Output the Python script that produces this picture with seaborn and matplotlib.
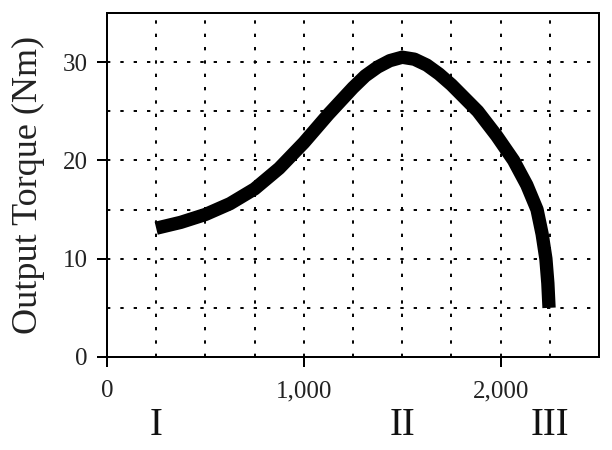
import matplotlib
matplotlib.use("Agg")
import matplotlib.pyplot as plt
from matplotlib.ticker import MultipleLocator, StrMethodFormatter
import seaborn as sns
import pandas as pd

# torque curve
rpm = [250, 375, 500, 625, 750, 875, 1000, 1125, 1250, 1312, 1375, 1437,
       1500, 1562, 1625, 1687, 1750, 1884, 1980, 2066, 2133, 2185, 2211,
       2230, 2240, 2246]
torque = [13.1, 13.7, 14.5, 15.6, 17.1, 19.2, 21.8, 24.7, 27.4, 28.6, 29.5, 30.15,
          30.5, 30.3, 29.7, 28.8, 27.7, 25.0, 22.5, 20.0, 17.5, 15.0, 12.5,
          10.0, 7.5, 5.0]

region_labels = ["I", "II", "III"]
region_pos = [250, 1500, 2250]

sns.set_style("ticks")
plt.rcParams['font.family'] = ['Liberation Serif', 'DejaVu Serif']
plt.rcParams['lines.scale_dashes'] = False

df = pd.DataFrame({"rpm": rpm, "torque": torque})

fig = plt.figure(figsize=(6.12, 4.5), dpi=100)
ax = fig.add_subplot(111)
fig.subplots_adjust(left=0.1748, right=0.9788, bottom=0.2067, top=0.9711)

sns.lineplot(data=df, x="rpm", y="torque", ax=ax, color="black",
             linewidth=9.6, estimator=None, sort=True,
             solid_capstyle="butt", solid_joinstyle="round")

ax.set_xlim(0, 2500)
ax.set_ylim(0, 35)
ax.xaxis.set_major_locator(MultipleLocator(1000))
ax.xaxis.set_minor_locator(MultipleLocator(250))
ax.yaxis.set_major_locator(MultipleLocator(10))
ax.yaxis.set_minor_locator(MultipleLocator(5))
ax.xaxis.set_major_formatter(StrMethodFormatter("{x:,.0f}"))

ax.set_axisbelow(True)
ax.grid(True, which="both", color="black", linewidth=1.4,
        linestyle=(0, (2.4, 7.2)))

ax.tick_params(axis="both", which="major", direction="out", length=7.2,
               width=1.44, labelsize=18, color="black", labelcolor="#222222")
ax.tick_params(axis="x", which="major", pad=9.5)
ax.tick_params(axis="y", which="major", pad=6.8)
ax.tick_params(axis="both", which="minor", length=0)

for side in ["left", "right", "top", "bottom"]:
    ax.spines[side].set_visible(True)
    ax.spines[side].set_linewidth(1.44)
    ax.spines[side].set_color("black")

ax.set_xlabel("")
ax.set_ylabel("Output Torque (Nm)", fontsize=26, color="#222222")
ax.yaxis.set_label_coords(-0.126, 0.5)

for lab, pos in zip(region_labels, region_pos):
    ax.text(pos, -0.227, lab, transform=ax.get_xaxis_transform(),
            ha="center", va="baseline", fontsize=28, color="#111111")

plt.savefig("out.png", dpi=100)
